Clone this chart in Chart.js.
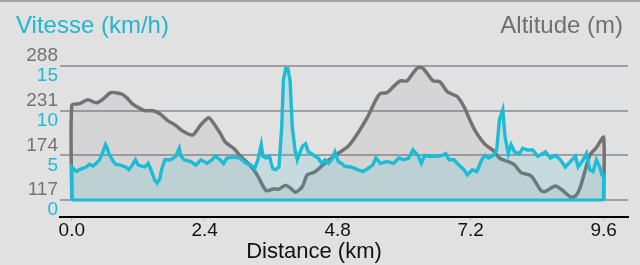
<!DOCTYPE html>
<html>
<head>
<meta charset="utf-8">
<script src="https://cdn.jsdelivr.net/npm/chart.js@4/dist/chart.umd.min.js"></script>
<style>
  html, body { margin: 0; padding: 0; background: #e1e1e1; }
  #wrap { position: relative; width: 640px; height: 265px; overflow: hidden; background: #e1e1e1; }
  #topline { position: absolute; left: 0; top: 0; width: 640px; height: 2px; background: #a3a3a3; }
  .ttl { position: absolute; top: 13px; font-family: "Liberation Sans", Arial, sans-serif; font-size: 24px; line-height: 24px; white-space: nowrap; }
  #tl { left: 16px; color: #22b6cf; }
  #tr { right: 17px; color: #707070; }
  canvas { position: absolute; left: 0; top: 0; }
</style>
</head>
<body>
<div id="wrap">
  <canvas id="c" width="640" height="265"></canvas>
  <div id="topline"></div>
  <div class="ttl" id="tl">Vitesse (km/h)</div>
  <div class="ttl" id="tr">Altitude (m)</div>
</div>
<script>
// ---- data ----
const distTicks = [0, 2.4, 4.8, 7.2, 9.6];
const speedTicks = [0, 5, 10, 15];
const altTicks = [117, 174, 231, 288];

const altDist = [0, 0.14, 0.29, 0.44, 0.55, 0.70, 0.79, 0.91, 1.00, 1.09, 1.20, 1.32, 1.47, 1.59, 1.74, 1.88, 2.00, 2.18, 2.33, 2.47, 2.56, 2.68, 2.77, 2.92, 3.06, 3.21, 3.33, 3.51, 3.63, 3.74, 3.86, 3.95, 4.04, 4.16, 4.25, 4.39, 4.57, 4.75, 4.98, 5.16, 5.34, 5.49, 5.57, 5.69, 5.81, 5.93, 6.05, 6.16, 6.25, 6.34, 6.52, 6.64, 6.78, 6.87, 6.96, 7.08, 7.20, 7.31, 7.46, 7.61, 7.73, 7.88, 7.99, 8.11, 8.29, 8.47, 8.55, 8.73, 8.88, 9.00, 9.09, 9.17, 9.26, 9.35, 9.47, 9.60];
const altValues = [238, 240, 245, 241, 245, 254, 254, 252, 247, 240, 235, 231, 231, 227, 218, 212, 205, 200, 213, 222, 215, 202, 191, 183, 172, 162, 151, 129, 131, 131, 136, 132, 127, 134, 149, 153, 164, 174, 185, 202, 223, 245, 253, 254, 262, 269, 269, 279, 286, 285, 269, 268, 255, 252, 249, 236, 217, 202, 188, 180, 170, 166, 162, 152, 148, 129, 128, 135, 128, 121, 122, 132, 153, 174, 184, 197];

const speedDist = [0, 0.08, 0.14, 0.26, 0.32, 0.38, 0.44, 0.50, 0.55, 0.61, 0.64, 0.67, 0.73, 0.79, 0.88, 0.97, 1.03, 1.09, 1.15, 1.20, 1.26, 1.32, 1.38, 1.44, 1.50, 1.54, 1.59, 1.62, 1.68, 1.79, 1.88, 1.94, 1.97, 2.03, 2.15, 2.24, 2.33, 2.39, 2.44, 2.53, 2.59, 2.68, 2.74, 2.80, 2.92, 3.03, 3.15, 3.24, 3.30, 3.36, 3.42, 3.45, 3.51, 3.57, 3.60, 3.63, 3.68, 3.74, 3.79, 3.82, 3.86, 3.90, 3.94, 3.98, 4.03, 4.07, 4.10, 4.16, 4.22, 4.27, 4.33, 4.39, 4.45, 4.51, 4.57, 4.63, 4.69, 4.75, 4.81, 4.87, 4.92, 5.04, 5.16, 5.25, 5.34, 5.43, 5.49, 5.57, 5.69, 5.81, 5.90, 5.99, 6.08, 6.16, 6.25, 6.31, 6.37, 6.46, 6.58, 6.69, 6.75, 6.81, 6.90, 6.99, 7.08, 7.14, 7.23, 7.31, 7.40, 7.46, 7.52, 7.61, 7.67, 7.72, 7.78, 7.82, 7.88, 7.93, 7.99, 8.08, 8.14, 8.23, 8.32, 8.41, 8.50, 8.55, 8.64, 8.73, 8.82, 8.91, 9.00, 9.09, 9.14, 9.23, 9.29, 9.35, 9.41, 9.47, 9.53, 9.57, 9.60];
const speedValues = [3.7, 3.2, 3.4, 3.7, 4.0, 3.8, 4.1, 4.5, 5.2, 6.2, 5.8, 5.2, 4.5, 4.0, 3.9, 3.7, 3.4, 3.9, 4.5, 3.9, 3.8, 3.7, 4.1, 3.2, 2.2, 1.9, 2.4, 3.4, 4.5, 4.5, 4.9, 5.8, 4.9, 4.5, 4.3, 3.9, 4.5, 4.3, 4.1, 4.5, 4.9, 4.5, 4.1, 4.7, 4.8, 4.7, 4.1, 3.9, 3.5, 4.5, 6.2, 4.9, 4.7, 4.9, 4.1, 3.5, 3.4, 3.7, 8.2, 13.4, 14.7, 14.7, 13.4, 8.2, 5.6, 4.5, 5.0, 6.0, 6.3, 5.4, 5.2, 4.9, 4.7, 4.1, 4.5, 4.1, 4.5, 5.4, 4.3, 4.1, 3.8, 3.7, 3.4, 3.2, 3.5, 3.9, 4.7, 4.1, 4.3, 4.1, 4.7, 4.5, 4.7, 5.6, 5.0, 4.1, 5.0, 4.9, 4.9, 5.0, 5.2, 4.5, 4.5, 3.9, 3.4, 2.8, 3.4, 3.2, 4.5, 5.0, 4.7, 5.0, 5.6, 9.0, 10.1, 7.1, 5.2, 6.2, 5.4, 5.2, 5.8, 5.6, 5.6, 4.9, 5.2, 5.4, 4.7, 5.0, 4.5, 3.7, 4.3, 4.9, 3.7, 4.5, 5.2, 3.4, 3.2, 4.5, 3.7, 2.8, 2.8];

// ---- build datasets ----
const xStart = distTicks[0], xEnd = distTicks[distTicks.length - 1];
const speedBase = speedTicks[0], altBase = altTicks[0];
const speedPts = [{x: xStart, y: speedBase}]
  .concat(speedDist.map((d, i) => ({x: d, y: speedValues[i]})))
  .concat([{x: xEnd, y: speedBase}]);
const altPts = [{x: xStart, y: altBase}]
  .concat(altDist.map((d, i) => ({x: d, y: altValues[i]})))
  .concat([{x: xEnd, y: altBase}]);
const basePts = [{x: xStart, y: speedBase}, {x: xEnd, y: speedBase}];

// scale mapping: altitude = altBase + speed * (altStep / speedStep)
const ratio = (altTicks[1] - altTicks[0]) / (speedTicks[1] - speedTicks[0]);
const speedMin = -1.9, speedMax = 15;
const altMin = altBase + speedMin * ratio, altMax = altBase + speedMax * ratio;

const CYAN = '#1bbcd6';
const GRAY = '#737373';
const FONT = '"Liberation Sans", Arial, sans-serif';
const LABEL_SIZE = 19;
Chart.defaults.font.family = FONT;

// widest speed label (for right-aligned, unclipped mirrored labels)
const mctx = document.createElement('canvas').getContext('2d');
mctx.font = LABEL_SIZE + 'px ' + FONT;
const speedWidest = Math.max(...speedTicks.map(v => mctx.measureText(String(v)).width));

const chart = new Chart(document.getElementById('c'), {
  type: 'line',
  data: {
    datasets: [
      {
        label: 'Vitesse', data: speedPts, yAxisID: 'ySpeed', order: 0,
        borderColor: CYAN, borderWidth: 3.4, pointRadius: 0, tension: 0,
        fill: 'origin', backgroundColor: 'rgba(30,180,205,0.13)', clip: false
      },
      {
        label: 'base', data: basePts, yAxisID: 'ySpeed', order: 0,
        borderColor: CYAN, borderWidth: 3, pointRadius: 0, fill: false, clip: false
      },
      {
        label: 'Altitude', data: altPts, yAxisID: 'yAlt', order: 1,
        borderColor: GRAY, borderWidth: 3.5, pointRadius: 0, tension: 0.25,
        fill: {value: altBase}, backgroundColor: 'rgba(110,110,110,0.10)', clip: false
      }
    ]
  },
  options: {
    responsive: false,
    animation: false,
    events: [],
    layout: { padding: { top: 66, right: 12, left: 0, bottom: 0 } },
    plugins: {
      legend: { display: false },
      tooltip: { enabled: false },
      title: {
        display: true, position: 'bottom', text: 'Distance (km)',
        color: '#111', font: { size: 22, weight: 'normal', lineHeight: 1.2 },
        padding: { top: 0, bottom: 0 }
      }
    },
    scales: {
      x: {
        type: 'linear', min: -0.2125, max: 10.04,
        afterBuildTicks: s => { s.ticks = distTicks.map(v => ({value: v})); },
        afterFit: s => { s.height = 21.6; },
        ticks: {
          callback: v => Number(v).toFixed(1), color: '#111',
          font: { size: LABEL_SIZE, lineHeight: 1 }, padding: 0, maxRotation: 0, autoSkip: false
        },
        grid: { drawOnChartArea: false, drawTicks: true, tickLength: 4, tickColor: '#bdbdbd', tickWidth: 1 },
        border: { display: true, color: '#000', width: 2 }
      },
      yAlt: {
        type: 'linear', position: 'left', weight: 1, min: altMin, max: altMax,
        afterBuildTicks: s => { s.ticks = altTicks.map(v => ({value: v})); },
        afterFit: s => { s.width = 60; },
        ticks: { color: GRAY, font: { size: LABEL_SIZE }, labelOffset: -10, padding: 2, autoSkip: false },
        grid: { color: '#9da0a3', lineWidth: 2, drawTicks: false },
        border: { display: false }
      },
      ySpeed: {
        type: 'linear', position: 'left', weight: 0, min: speedMin, max: speedMax,
        afterBuildTicks: s => { s.ticks = speedTicks.map(v => ({value: v})); },
        afterFit: s => { s.width = 0; },
        ticks: { color: CYAN, font: { size: LABEL_SIZE }, labelOffset: 10, padding: 0,
                 mirror: true, crossAlign: 'far', autoSkip: false },
        grid: { display: false, drawTicks: false },
        border: { display: false }
      }
    }
  }
});

// place the speed labels right-aligned 2px left of the plot area, same column as altitude labels
const sp = chart.scales.ySpeed;
chart.options.scales.ySpeed.ticks.padding = (chart.chartArea.left - 2) - speedWidest - sp.right;
chart.update('none');
</script>
</body>
</html>
